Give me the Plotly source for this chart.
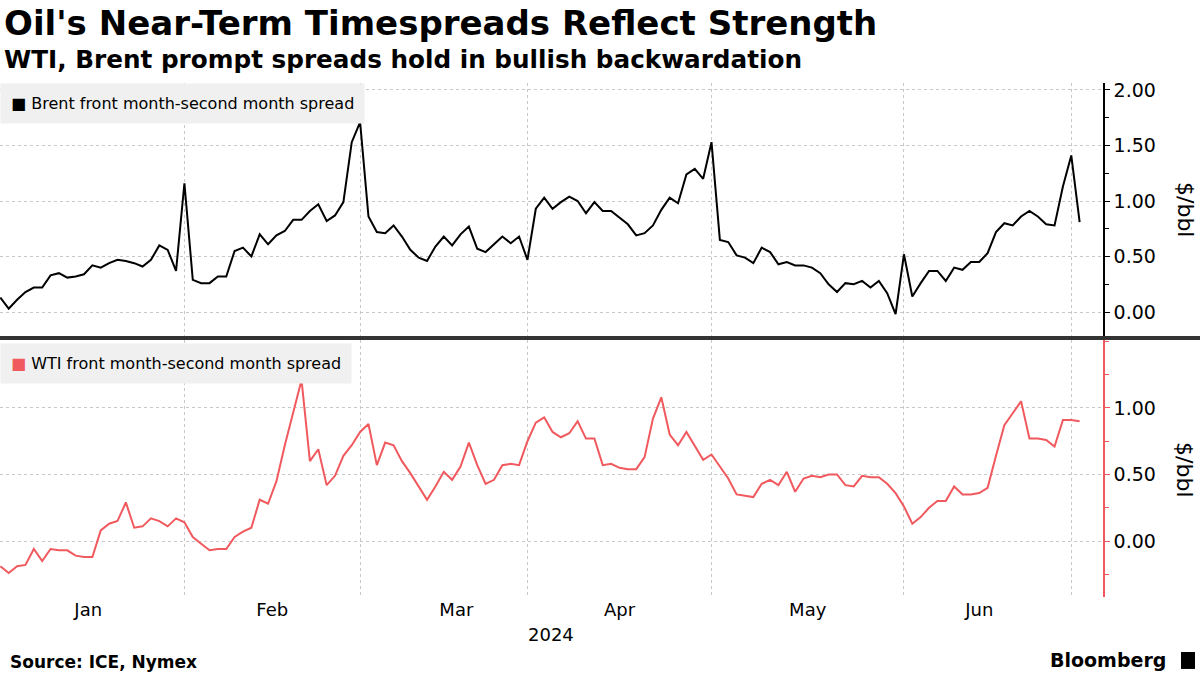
import pandas as pd
import plotly.graph_objects as go

# Trading days (weekdays, Good Friday closed)
dates = [d for d in pd.bdate_range("2024-01-02", "2024-07-02") if d != pd.Timestamp("2024-03-29")]

brent = [0.13, 0.03, 0.11, 0.18, 0.22, 0.22, 0.33, 0.35, 0.31, 0.32,
         0.34, 0.42, 0.40, 0.44, 0.47, 0.46, 0.44, 0.41, 0.47, 0.60,
         0.56, 0.37, 1.16, 0.29, 0.26, 0.26, 0.32, 0.32, 0.55, 0.58,
         0.50, 0.70, 0.61, 0.69, 0.73, 0.83, 0.83, 0.91, 0.97, 0.82,
         0.87, 0.99, 1.53, 1.71, 0.86, 0.72, 0.71, 0.78, 0.68, 0.56,
         0.49, 0.46, 0.59, 0.68, 0.60, 0.70, 0.77, 0.57, 0.54, 0.61,
         0.68, 0.62, 0.68, 0.47, 0.93, 1.03, 0.93, 0.99, 1.04, 1.00,
         0.89, 0.99, 0.91, 0.91, 0.85, 0.79, 0.69, 0.71, 0.78, 0.92,
         1.03, 0.98, 1.24, 1.29, 1.20, 1.53, 0.65, 0.63, 0.51, 0.49,
         0.44, 0.58, 0.54, 0.43, 0.45, 0.42, 0.42, 0.40, 0.35, 0.25,
         0.18, 0.26, 0.25, 0.28, 0.22, 0.28, 0.17, -0.02, 0.52, 0.14,
         0.26, 0.37, 0.37, 0.28, 0.40, 0.38, 0.45, 0.45, 0.53, 0.72,
         0.80, 0.78, 0.86, 0.91, 0.86, 0.79, 0.78, 1.13, 1.41, 0.81]

wti = [-0.19, -0.24, -0.19, -0.18, -0.06, -0.15, -0.06, -0.07, -0.07, -0.11,
       -0.12, -0.12, 0.08, 0.13, 0.15, 0.29, 0.10, 0.11, 0.17, 0.15,
       0.11, 0.17, 0.14, 0.03, -0.02, -0.07, -0.06, -0.06, 0.03, 0.07,
       0.10, 0.31, 0.28, 0.45, 0.72, 0.96, 1.21, 0.60, 0.69, 0.42,
       0.49, 0.64, 0.72, 0.82, 0.88, 0.57, 0.74, 0.72, 0.60, 0.51,
       0.41, 0.31, 0.41, 0.52, 0.46, 0.56, 0.74, 0.57, 0.43, 0.46,
       0.57, 0.58, 0.57, 0.75, 0.89, 0.93, 0.82, 0.78, 0.81, 0.90,
       0.77, 0.77, 0.57, 0.58, 0.55, 0.54, 0.54, 0.63, 0.92, 1.08,
       0.80, 0.72, 0.82, 0.72, 0.61, 0.65, 0.56, 0.47, 0.35, 0.34,
       0.33, 0.43, 0.46, 0.42, 0.52, 0.37, 0.47, 0.49, 0.48, 0.50,
       0.50, 0.42, 0.41, 0.49, 0.48, 0.48, 0.43, 0.36, 0.26, 0.13,
       0.18, 0.25, 0.30, 0.30, 0.41, 0.35, 0.35, 0.36, 0.40, 0.64,
       0.87, 0.96, 1.05, 0.77, 0.77, 0.76, 0.71, 0.91, 0.91, 0.90]

brent_name = "Brent front month-second month spread"
wti_name = "WTI front month-second month spread"
top_ticks = [0.0, 0.5, 1.0, 1.5, 2.0]
bottom_ticks = [0.0, 0.5, 1.0]

BLACK = "#000000"
RED = "#f0595e"
GRID = "#c8c8c8"
FONT = "DejaVu Sans"

fig = go.Figure()
fig.add_trace(go.Scatter(x=dates, y=brent, mode="lines", name=brent_name,
                         line=dict(color=BLACK, width=2), xaxis="x", yaxis="y",
                         showlegend=False))
fig.add_trace(go.Scatter(x=dates, y=wti, mode="lines", name=wti_name,
                         line=dict(color=RED, width=2), xaxis="x2", yaxis="y2",
                         showlegend=False))

breaks = [dict(bounds=["sat", "mon"]), dict(values=["2024-01-01", "2024-03-29"])]
xcommon = dict(type="date", range=["2023-12-29 23:00", "2024-07-04 19:00"],
               rangebreaks=breaks, showgrid=True, gridcolor=GRID, griddash="dot",
               gridwidth=1, dtick="M1", tick0="2024-01-01", zeroline=False,
               showline=False)

fig.update_layout(
    width=1200, height=675,
    margin=dict(l=0, r=97, t=83, b=78),
    paper_bgcolor="white", plot_bgcolor="white",
    font=dict(family=FONT, color="black"),
    xaxis=dict(**xcommon, domain=[0, 1], anchor="y", showticklabels=False, ticks=""),
    xaxis2=dict(**xcommon, domain=[0, 1], anchor="y2", matches="x",
                showticklabels=True, tickformat="%b", ticklabelmode="period",
                ticks="",
                tickfont=dict(family=FONT, size=18, color="black")),
    yaxis=dict(domain=[0.5078, 1], anchor="x", side="right",
               range=[-0.216, 2.063], tickvals=top_ticks,
               tickformat=".2f", showline=True, linecolor=BLACK, linewidth=1.5,
               ticks="outside", ticklen=5, tickcolor=BLACK,
               minor=dict(dtick=0.25, tick0=0, ticks="outside", ticklen=4,
                          tickcolor=BLACK, showgrid=False),
               showgrid=True, gridcolor=GRID, griddash="dot", zeroline=False,
               tickfont=dict(family=FONT, size=19, color="black")),
    yaxis2=dict(domain=[0, 0.5], anchor="x2", side="right",
                range=[-0.421, 1.511], tickvals=bottom_ticks,
                tickformat=".2f", showline=True, linecolor=RED, linewidth=1.5,
                ticks="outside", ticklen=5, tickcolor=RED,
                minor=dict(dtick=0.25, tick0=0, ticks="outside", ticklen=4,
                           tickcolor=RED, showgrid=False),
                showgrid=True, gridcolor=GRID, griddash="dot", zeroline=False,
                tickfont=dict(family=FONT, size=19, color="black")),
)

# separator between panels
fig.add_shape(type="line", xref="paper", yref="paper", x0=0, x1=1.088,
              y0=0.5039, y1=0.5039, line=dict(color="#333333", width=4))

annos = [
    dict(text="<b>Oil's Near-Term Timespreads Reflect Strength</b>", x=0.002, y=1.117,
         xanchor="left", yanchor="middle", font=dict(size=34, family=FONT, color="black")),
    dict(text="<b>WTI, Brent prompt spreads hold in bullish backwardation</b>", x=0.002, y=1.045,
         xanchor="left", yanchor="middle", font=dict(size=24.7, family=FONT, color="black")),
    dict(text=f"<span style='color:{BLACK}'>■</span> {brent_name}", x=0, y=1.0,
         xanchor="left", yanchor="top", bgcolor="#f0f0f0", borderpad=10,
         font=dict(size=16, family=FONT, color="black")),
    dict(text=f"<span style='color:{RED}'>■</span> {wti_name}", x=0, y=0.494,
         xanchor="left", yanchor="top", bgcolor="#f0f0f0", borderpad=10,
         font=dict(size=16, family=FONT, color="black")),
    dict(text="$/bbl", x=1.0743, y=0.753, textangle=90, xanchor="center", yanchor="middle",
         font=dict(size=22, family=FONT, color="black")),
    dict(text="$/bbl", x=1.0743, y=0.247, textangle=90, xanchor="center", yanchor="middle",
         font=dict(size=22, family=FONT, color="black")),
    dict(text="2024", x=0.4995, y=-0.072, xanchor="center", yanchor="middle",
         font=dict(size=18, family=FONT, color="black")),
    dict(text="<b>Source: ICE, Nymex</b>", x=0.007, y=-0.1265, xanchor="left", yanchor="middle",
         font=dict(size=17, family=FONT, color="black")),
    dict(text="<b>Bloomberg</b>", x=1.059, y=-0.1226, xanchor="right", yanchor="middle",
         font=dict(size=19, family=FONT, color="black")),
]
for a in annos:
    fig.add_annotation(xref="paper", yref="paper", showarrow=False, **a)

# small logo mark next to Bloomberg
fig.add_shape(type="rect", xref="paper", yref="paper", x0=1.0707, x1=1.0834,
              y0=-0.140, y1=-0.107, fillcolor="black", line=dict(width=0))

fig.write_html("out.html", config={"displayModeBar": False},
               post_script="document.body.style.margin='0';")
